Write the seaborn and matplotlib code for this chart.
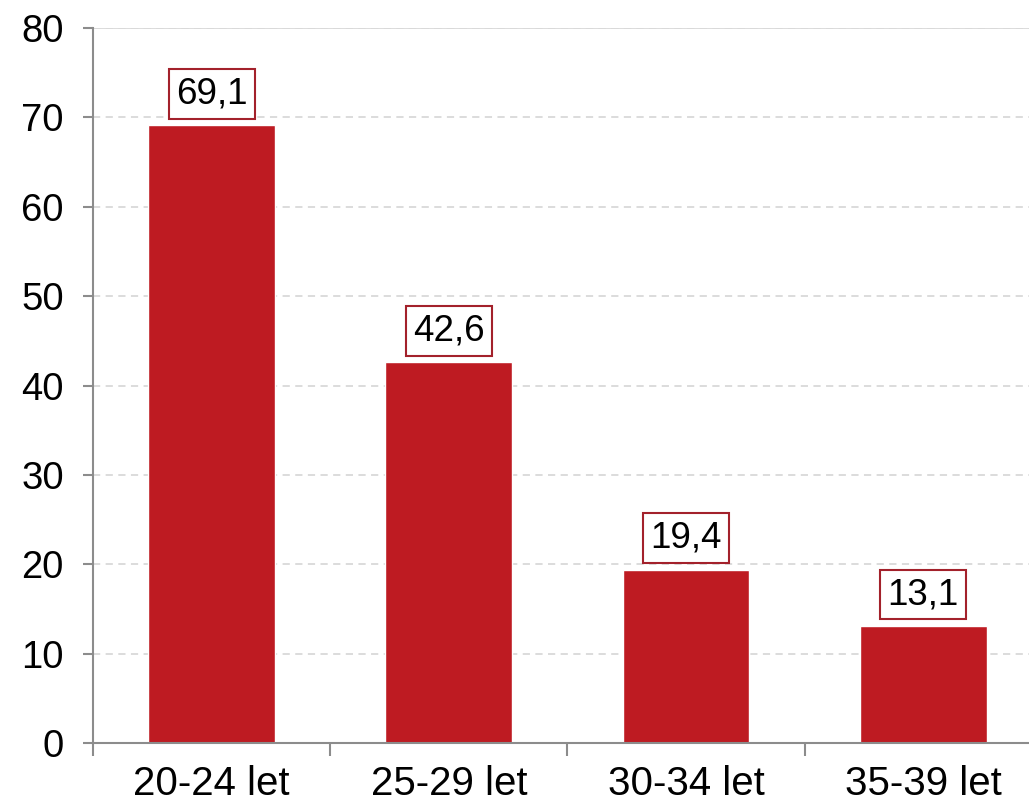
import matplotlib
matplotlib.use("Agg")
import matplotlib.pyplot as plt
import pandas as pd
import seaborn as sns

categories = ["20-24 let", "25-29 let", "30-34 let", "35-39 let"]
values = [69.1, 42.6, 19.4, 13.1]
value_labels = ["69,1", "42,6", "19,4", "13,1"]
y_ticks = [0, 10, 20, 30, 40, 50, 60, 70, 80]

BAR_RED = "#BE1B22"
BOX_RED = "#A3212B"
AXIS_GREY = "#8C8C8C"

sns.set_style("white")
plt.rcParams["font.family"] = ["Liberation Sans", "DejaVu Sans"]
plt.rcParams["text.color"] = "black"
plt.rcParams["xtick.color"] = "black"
plt.rcParams["ytick.color"] = "black"

df = pd.DataFrame({"group": categories, "value": values})

fig = plt.figure(figsize=(10.29, 8.11), dpi=100)
# the plot area runs a little past the right edge of the image
ax = fig.add_axes([0.0904, 0.0838, 0.922, 0.8817])

sns.barplot(data=df, x="group", y="value", color=BAR_RED, width=0.535,
            saturation=1, ax=ax, zorder=3)

ax.set_ylim(0, 80)
ax.set_xlim(-0.5, len(categories) - 0.5)
ax.set_yticks(y_ticks)
ax.set_xlabel("")
ax.set_ylabel("")

# dashed horizontal gridlines, solid line at the top
ax.yaxis.grid(True, color="#D9D9D9", linestyle=(0, (4, 3)), linewidth=1.3, zorder=0)
ax.xaxis.grid(False)
ax.axhline(80, color="#D9D9D9", linewidth=1.3, zorder=0)

for side in ("top", "right"):
    ax.spines[side].set_visible(False)
for side in ("left", "bottom"):
    ax.spines[side].set_color(AXIS_GREY)
    ax.spines[side].set_linewidth(1.5)
    ax.spines[side].set_zorder(4)

ax.tick_params(axis="y", length=7, width=1.5, color=AXIS_GREY, pad=14,
               labelsize=27.5, left=True, labelcolor="black")
ax.tick_params(axis="x", which="major", length=0, pad=16, labelsize=29,
               labelcolor="black")
ax.set_xticks([i - 0.5 for i in range(len(categories) + 1)], minor=True)
ax.tick_params(axis="x", which="minor", length=9, width=1.5,
               color=AXIS_GREY, bottom=True)

for i, (v, lab) in enumerate(zip(values, value_labels)):
    ax.annotate(lab, (i, v), xytext=(0, 10), textcoords="offset points",
                ha="center", va="bottom", fontsize=26.5, color="black",
                bbox=dict(boxstyle="square,pad=0.2", facecolor="white",
                          edgecolor=BOX_RED, linewidth=1.5),
                zorder=5)

fig.savefig("out.png", dpi=100, facecolor="white")
plt.close(fig)
